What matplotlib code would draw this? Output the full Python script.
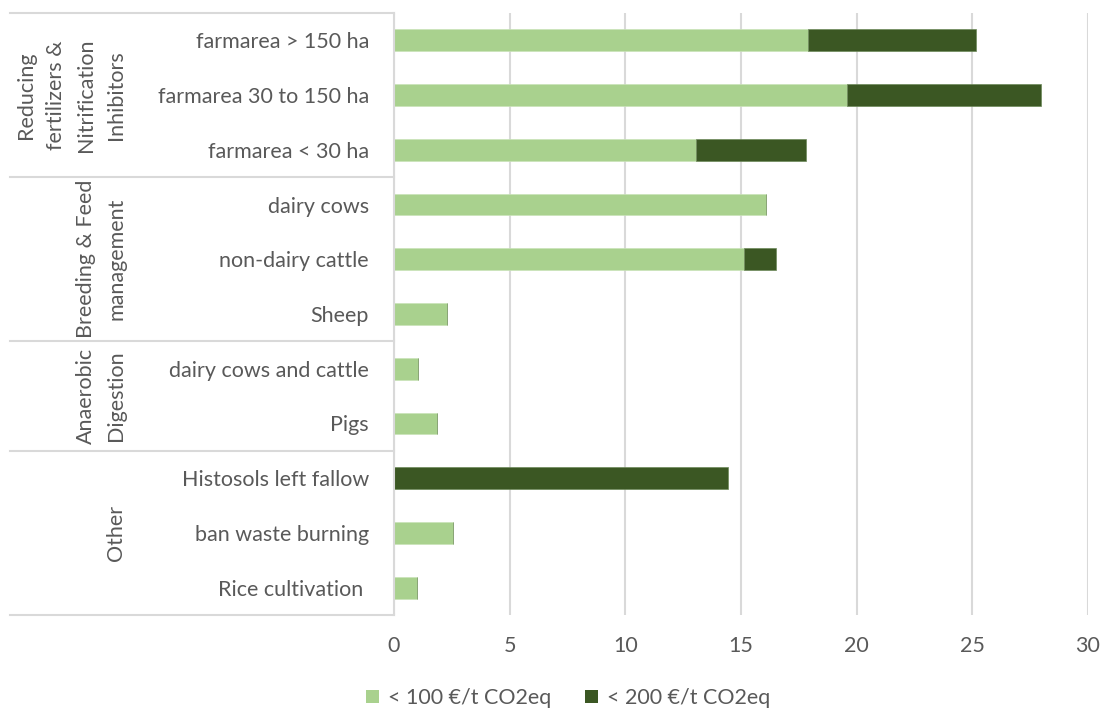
import matplotlib
matplotlib.use("Agg")
import matplotlib.pyplot as plt
import matplotlib.transforms as mtransforms
from matplotlib.patches import Patch

plt.rcParams['font.family'] = ['Lato', 'DejaVu Sans']

# data
categories = ["farmarea > 150 ha", "farmarea 30 to 150 ha", "farmarea < 30 ha",
              "dairy cows", "non-dairy cattle", "Sheep",
              "dairy cows and cattle", "Pigs",
              "Histosols left fallow", "ban waste burning", "Rice cultivation "]
below_100 = [17.9, 19.6, 13.05, 16.1, 15.15, 2.3, 1.05, 1.85, 0.0, 2.55, 1.0]
below_200 = [7.25, 8.35, 4.75, 0.0, 1.35, 0.0, 0.0, 0.0, 14.45, 0.0, 0.0]

groups = ["Reducing\nfertilizers &\nNitrification\nInhibitors",
          "Breeding & Feed\nmanagement",
          "Anaerobic\nDigestion",
          "Other"]
group_sizes = [3, 3, 2, 3]

series_labels = ["< 100 €/t CO2eq", "< 200 €/t CO2eq"]
xticks = [0, 5, 10, 15, 20, 25, 30]

light = "#A9D18E"
dark = "#3B5723"
grid_col = "#D9D9D9"
text_col = "#595959"
fs = 15.5

W, H = 1103, 711
fig = plt.figure(figsize=(W / 100, H / 100), dpi=100)
ax = fig.add_axes([394 / W, 1 - 615 / H, (1088 - 394) / W, (615 - 13) / H])

ypos = list(range(len(categories)))
ax.barh(ypos, below_100, height=0.4, color=light, edgecolor="#C9E3B8", linewidth=0.5,
        zorder=3, label=series_labels[0])
ax.barh(ypos, below_200, left=below_100, height=0.4, color=dark, edgecolor="#6E8A5A",
        linewidth=0.5, zorder=3, label=series_labels[1])

ax.set_xlim(0, 30)
ax.set_ylim(len(categories) - 0.5, -0.5)
ax.set_xticks(xticks)
ax.set_xticklabels([str(t) for t in xticks])
ax.set_yticks(ypos)
ax.set_yticklabels(categories)
ax.tick_params(axis='x', length=0, pad=15, labelsize=fs, labelcolor=text_col)
ax.tick_params(axis='y', length=0, pad=18, labelsize=fs, labelcolor=text_col)
ax.grid(axis='x', color=grid_col, linewidth=1.5, zorder=0)
for s in ['top', 'right', 'bottom']:
    ax.spines[s].set_visible(False)
ax.spines['left'].set_color(grid_col)
ax.spines['left'].set_linewidth(1.5)
ax.spines['left'].set_zorder(4)

# multi-level category axis: separators and group labels
left_frac = (10 - 394) / (1088 - 394)
trans_line = mtransforms.blended_transform_factory(ax.transAxes, ax.transData)
trans_text = mtransforms.blended_transform_factory(fig.transFigure, ax.transData)
start = -0.5
ax.plot([left_frac, 0], [start, start], transform=trans_line, color=grid_col,
        linewidth=1.5, clip_on=False)
for name, n in zip(groups, group_sizes):
    end = start + n
    ax.plot([left_frac, 0], [end, end], transform=trans_line, color=grid_col,
            linewidth=1.5, clip_on=False)
    fig.text(126 / W, (start + end) / 2, name, transform=trans_text, rotation=90,
             ha='right', va='center', multialignment='center', fontsize=fs,
             color=text_col, linespacing=1.62)
    start = end

handles = [Patch(facecolor=light), Patch(facecolor=dark)]
fig.legend(handles, series_labels, loc='center', bbox_to_anchor=(568 / W, 1 - 698 / H),
           ncol=2, frameon=False, fontsize=fs, labelcolor=text_col,
           handlelength=0.6, handleheight=0.6, handletextpad=0.4, columnspacing=1.6)

fig.savefig("out.png", dpi=100)
